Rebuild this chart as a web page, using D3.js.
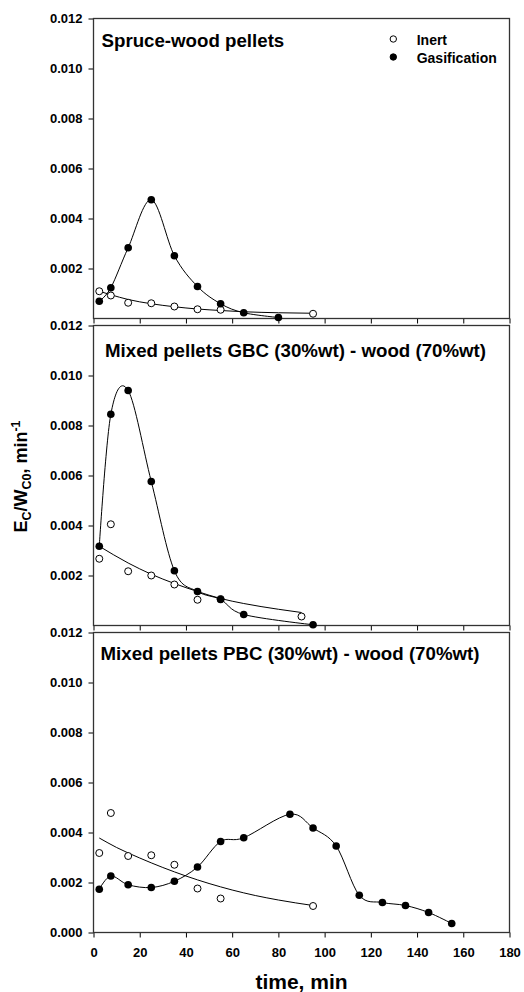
<!DOCTYPE html>
<html>
<head>
<meta charset="utf-8">
<script src="https://cdn.jsdelivr.net/npm/d3@7"></script>
<style>
  body { margin: 0; background: #fff; }
  text { font-family: "Liberation Sans", Arial, sans-serif; font-weight: bold; }
</style>
</head>
<body>
<div id="chart"></div>
<script>
// ---- data ----
const panelTitles = [
  "Spruce-wood pellets",
  "Mixed pellets GBC (30%wt) - wood (70%wt)",
  "Mixed pellets PBC (30%wt) - wood (70%wt)"
]
const legendLabels = ["Inert", "Gasification"]

// spruce-wood
const spruceGasTime = [2.5, 7.5, 15, 25, 35, 45, 55, 65, 80]
const spruceGas = [0.00069, 0.00123, 0.00283, 0.00475, 0.00251, 0.00128, 0.00059, 0.00023, 0.00004]
const spruceInertTime = [2.5, 7.5, 15, 25, 35, 45, 55, 95]
const spruceInert = [0.00109, 0.00092, 0.00063, 0.00061, 0.00048, 0.00037, 0.00035, 0.00019]
const spruceFitTime = [2.5, 7.5, 15, 25, 35, 45, 55, 65, 80, 95]
const spruceFit = [0.00109, 0.00095, 0.00076, 0.00059, 0.00047, 0.00038, 0.00032, 0.00027, 0.00023, 0.00021]

// GBC mix
const gbcGasTime = [2.5, 7.5, 15, 25, 35, 45, 55, 65, 95]
const gbcGas = [0.00317, 0.00845, 0.0094, 0.00576, 0.00219, 0.00136, 0.00104, 0.00044, 0.00003]
const gbcInertTime = [2.5, 7.5, 15, 25, 35, 45, 55, 90]
const gbcInert = [0.00267, 0.00405, 0.00217, 0.002, 0.00164, 0.00103, 0.00106, 0.00036]
const gbcFitTime = [2.5, 15, 25, 35, 45, 55, 65, 80, 90]
const gbcFit = [0.00317, 0.0025, 0.00205, 0.00168, 0.00136, 0.00108, 0.00088, 0.00065, 0.00052]

// PBC mix
const pbcGasTime = [2.5, 7.5, 15, 25, 35, 45, 55, 65, 85, 95, 105, 115, 125, 135, 145, 155]
const pbcGas = [0.00173, 0.00226, 0.00191, 0.0018, 0.00205, 0.00262, 0.00364, 0.00379, 0.00473, 0.00418, 0.00346, 0.00149, 0.0012, 0.00108, 0.0008, 0.00036]
const pbcInertTime = [2.5, 7.5, 15, 25, 35, 45, 55, 95]
const pbcInert = [0.00318, 0.00478, 0.00306, 0.00309, 0.00271, 0.00176, 0.00136, 0.00106]
const pbcFitTime = [2.5, 10, 20, 30, 40, 50, 60, 70, 80, 95]
const pbcFit = [0.00378, 0.0034, 0.00298, 0.0026, 0.00226, 0.00196, 0.0017, 0.00148, 0.0013, 0.00108]

const xTicks = [0, 20, 40, 60, 80, 100, 120, 140, 160, 180]
const yTicksUpper = [0.002, 0.004, 0.006, 0.008, 0.010, 0.012]
const yTicksBottom = [0, 0.002, 0.004, 0.006, 0.008, 0.010, 0.012]

const zip = (t, v) => t.map((d, i) => ({ t: d, v: v[i] }))

const panels = [
  { gas: zip(spruceGasTime, spruceGas), inert: zip(spruceInertTime, spruceInert), fit: zip(spruceFitTime, spruceFit) },
  { gas: zip(gbcGasTime, gbcGas), inert: zip(gbcInertTime, gbcInert), fit: zip(gbcFitTime, gbcFit) },
  { gas: zip(pbcGasTime, pbcGas), inert: zip(pbcInertTime, pbcInert), fit: zip(pbcFitTime, pbcFit) }
]

// ---- layout ----
const params = {
  width: 524,
  height: 992,
  left: 93.5,
  right: 509.5,
  panelTops: [18.5, 325.5, 632.5],
  panelHeight: 300,
  titleDx: [8, 11.5, 7],
  titleDy: [28, 31, 27.5],
}

const svg = d3.select('#chart')
  .append('svg')
  .attr('width', params.width)
  .attr('height', params.height)

const x = d3.scaleLinear()
  .domain([0, 180])
  .range([params.left, params.right])

panels.forEach((p, i) => {
  const top = params.panelTops[i]
  const bottom = top + params.panelHeight
  const isLast = i === panels.length - 1

  const y = d3.scaleLinear()
    .domain([0, 0.012])
    .range([bottom, top])

  const g = svg.append('g')

  // y axis
  const yAxis = g.append('g')
    .attr('transform', `translate(${params.left},0)`)
    .call(d3.axisLeft(y)
      .tickValues(isLast ? yTicksBottom : yTicksUpper)
      .tickFormat(d3.format('.3f'))
      .tickSize(5)
      .tickPadding(6))
  yAxis.select('.domain').remove()
  yAxis.selectAll('text').attr('font-size', 13).attr('fill', '#000')
    .style('font-family', '"Liberation Sans", Arial, sans-serif').style('font-weight', 'bold')

  // x axis
  const xAxis = g.append('g')
    .attr('transform', `translate(0,${bottom})`)
    .call(d3.axisBottom(x)
      .tickValues(xTicks)
      .tickFormat(isLast ? d3.format('d') : '')
      .tickSize(5)
      .tickPadding(10))
  xAxis.select('.domain').remove()
  xAxis.selectAll('text').attr('font-size', 13).attr('fill', '#000')
    .style('font-family', '"Liberation Sans", Arial, sans-serif').style('font-weight', 'bold')

  // frame
  g.append('rect')
    .attr('x', params.left)
    .attr('y', top)
    .attr('width', params.right - params.left)
    .attr('height', params.panelHeight)
    .attr('fill', 'none')
    .attr('stroke', '#333')
    .attr('stroke-width', 1.3)

  // title
  g.append('text')
    .attr('x', params.left + params.titleDx[i])
    .attr('y', top + params.titleDy[i])
    .attr('font-size', 18.7)
    .text(panelTitles[i])

  const line = d3.line()
    .x(d => x(d.t))
    .y(d => y(d.v))

  // inert fit
  g.append('path')
    .datum(p.fit)
    .attr('d', line.curve(d3.curveMonotoneX))
    .attr('fill', 'none')
    .attr('stroke', '#000')
    .attr('stroke-width', 1)

  // gasification spline
  g.append('path')
    .datum(p.gas)
    .attr('d', line.curve(d3.curveCardinal.tension(0)))
    .attr('fill', 'none')
    .attr('stroke', '#000')
    .attr('stroke-width', 1)

  // inert points
  g.selectAll('circle.inert')
    .data(p.inert)
    .enter()
    .append('circle')
    .attr('class', 'inert')
    .attr('cx', d => x(d.t))
    .attr('cy', d => y(d.v))
    .attr('r', 3.5)
    .attr('fill', '#fff')
    .attr('stroke', '#000')
    .attr('stroke-width', 1)

  // gasification points
  g.selectAll('circle.gas')
    .data(p.gas)
    .enter()
    .append('circle')
    .attr('class', 'gas')
    .attr('cx', d => x(d.t))
    .attr('cy', d => y(d.v))
    .attr('r', 3.8)
    .attr('fill', '#000')
})

// legend
const legend = svg.append('g')
legendLabels.forEach((label, i) => {
  legend.append('circle')
    .attr('cx', 393.3)
    .attr('cy', 39 + i * 18)
    .attr('r', 3.2)
    .attr('fill', i === 0 ? '#fff' : '#000')
    .attr('stroke', '#000')
    .attr('stroke-width', 1)
  legend.append('text')
    .attr('x', 416.7)
    .attr('y', 44.5 + i * 18)
    .attr('font-size', 14)
    .text(label)
})

// x title
svg.append('text')
  .attr('x', (params.left + params.right) / 2)
  .attr('y', 989)
  .attr('text-anchor', 'middle')
  .attr('font-size', 21)
  .text('time, min')

// y title with sub/superscripts
const yTitle = svg.append('text')
  .attr('transform', 'translate(26.5,476.5) rotate(-90)')
  .attr('text-anchor', 'middle')
  .attr('font-size', 18)
yTitle.append('tspan').text('E')
yTitle.append('tspan').attr('font-size', 12.5).attr('dy', 4).text('C')
yTitle.append('tspan').attr('dy', -4).text('/W')
yTitle.append('tspan').attr('font-size', 12.5).attr('dy', 4).text('C0')
yTitle.append('tspan').attr('dy', -4).text(', min')
yTitle.append('tspan').attr('font-size', 12.5).attr('dy', -7).text('-1')
</script>
</body>
</html>
